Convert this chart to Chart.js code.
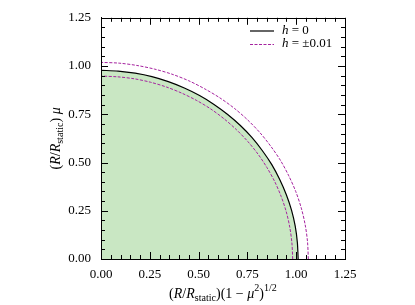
<!DOCTYPE html>
<html><head><meta charset="utf-8">
<script src="https://cdn.jsdelivr.net/npm/chart.js@4/dist/chart.umd.min.js"></script>
<style>html,body{margin:0;padding:0;background:#fff}#wrap{width:415px;height:305px}</style>
</head><body><div id="wrap"><canvas id="c" width="415" height="305"></canvas></div>
<script>
// h = 0 curve (x, y)
const h0X = [1.010,1.006,0.995,0.976,0.949,0.915,0.875,0.827,0.774,0.714,0.649,0.579,0.505,0.427,0.345,0.261,0.175,0.088,0.000];
const h0Y = [0.000,0.085,0.170,0.253,0.334,0.413,0.489,0.561,0.629,0.692,0.749,0.801,0.847,0.886,0.919,0.945,0.963,0.974,0.978];
// h = -0.01 (inner)
const hInX = [0.982,0.978,0.967,0.949,0.923,0.890,0.850,0.804,0.752,0.694,0.631,0.563,0.491,0.415,0.336,0.254,0.170,0.086,0.000];
const hInY = [0.000,0.083,0.165,0.245,0.324,0.401,0.474,0.544,0.609,0.670,0.726,0.777,0.821,0.859,0.891,0.916,0.934,0.944,0.948];
// h = +0.01 (outer)
const hOutX = [1.062,1.058,1.046,1.026,0.998,0.962,0.920,0.870,0.814,0.751,0.683,0.609,0.531,0.449,0.363,0.275,0.184,0.093,0.000];
const hOutY = [0.000,0.089,0.177,0.264,0.349,0.431,0.510,0.584,0.655,0.721,0.781,0.835,0.882,0.924,0.958,0.984,1.003,1.015,1.019];
const tickValues = [0.00,0.25,0.50,0.75,1.00,1.25];
const legendLabels = ['h = 0','h = ±0.01'];

const pts = (xs, ys) => xs.map((x, i) => ({x: x, y: ys[i]}));
const SERIF = '"Liberation Serif","DejaVu Serif",serif';
const PURPLE = '#a5239f';

function richText(ctx, segs, size) {
  let w = 0;
  const parts = segs.map(s => {
    const sz = s.sub || s.sup ? size * 0.72 : size;
    const f = (s.it ? 'italic ' : '') + sz + 'px ' + SERIF;
    ctx.font = f;
    const m = ctx.measureText(s.t).width;
    w += m;
    return {s, f, m};
  });
  return {w, draw: (x0, y0) => {
    let x = x0;
    parts.forEach(p => {
      ctx.font = p.f;
      let dy = 0;
      if (p.s.sub) dy = size * 0.28;
      if (p.s.sup) dy = -size * 0.38;
      ctx.fillText(p.s.t, x, y0 + dy);
      x += p.m;
    });
  }};
}

const decor = {
  id: 'decor',
  afterDatasetsDraw(chart) {
    const ctx = chart.ctx, xs = chart.scales.x, ys = chart.scales.y;
    const a = chart.chartArea;
    ctx.save();
    ctx.strokeStyle = '#000'; ctx.lineWidth = 1;
    for (let k = 0; k <= 25; k++) {
      const v = k * 0.05;
      const major = k % 5 === 0;
      const L = major ? 7 : 4;
      const px = Math.round(xs.getPixelForValue(v)) + 0.5;
      const py = Math.round(ys.getPixelForValue(v)) + 0.5;
      ctx.beginPath();
      ctx.moveTo(px, a.bottom); ctx.lineTo(px, a.bottom - L);
      ctx.moveTo(px, a.top); ctx.lineTo(px, a.top + L);
      ctx.moveTo(a.left, py); ctx.lineTo(a.left + L, py);
      ctx.moveTo(a.right, py); ctx.lineTo(a.right - L, py);
      ctx.stroke();
    }
    // legend
    ctx.fillStyle = '#000';
    ctx.textBaseline = 'middle';
    ctx.beginPath(); ctx.strokeStyle = '#000'; ctx.lineWidth = 1.2;
    ctx.moveTo(250, 31); ctx.lineTo(274, 31); ctx.stroke();
    ctx.beginPath(); ctx.strokeStyle = PURPLE; ctx.lineWidth = 1; ctx.setLineDash([3, 1.5]);
    ctx.moveTo(250, 44.5); ctx.lineTo(274, 44.5); ctx.stroke();
    ctx.setLineDash([]);
    ctx.textAlign = 'left';
    let r = richText(ctx, [{t:'h',it:1},{t:' = 0'}], 13); r.draw(282, 31);
    r = richText(ctx, [{t:'h',it:1},{t:' = ±0.01'}], 13); r.draw(282, 44);
    // x title
    r = richText(ctx, [{t:'('},{t:'R',it:1},{t:'/'},{t:'R',it:1},{t:'static',sub:1},{t:')(1 − '},{t:'μ',it:1},{t:'2',sup:1},{t:')'},{t:'1/2',sup:1}], 14);
    r.draw((a.left + a.right) / 2 - r.w / 2, 294);
    // y title
    ctx.translate(56, (a.top + a.bottom) / 2);
    ctx.rotate(-Math.PI / 2);
    r = richText(ctx, [{t:'('},{t:'R',it:1},{t:'/'},{t:'R',it:1},{t:'static',sub:1},{t:') '},{t:'μ',it:1}], 14);
    r.draw(-r.w / 2, 0);
    ctx.restore();
  }
};

new Chart(document.getElementById('c'), {
  type: 'scatter',
  data: { datasets: [
    { data: pts(h0X, h0Y), showLine: true, borderColor: '#000', borderWidth: 1.2, pointRadius: 0, order: 5,
      fill: 'origin', backgroundColor: 'rgb(201,231,195)', tension: 0.3 },
    { data: pts(hInX, hInY), showLine: true, borderColor: PURPLE, borderWidth: 1, borderDash: [3, 1.5], pointRadius: 0, fill: false, tension: 0.3, order: 1 },
    { data: pts(hOutX, hOutY), showLine: true, borderColor: PURPLE, borderWidth: 1, borderDash: [3, 1.5], pointRadius: 0, fill: false, tension: 0.3, order: 2 }
  ]},
  options: {
    responsive: false, animation: false, devicePixelRatio: 1,
    layout: { padding: { top: 15, right: 70, left: 0, bottom: 0 } },
    plugins: { legend: { display: false }, tooltip: { enabled: false } },
    scales: {
      x: { type: 'linear', min: 0, max: 1.25,
        afterBuildTicks: s => { s.ticks = tickValues.map(v => ({value: v})); },
        afterFit: s => { s.height = 46; },
        grid: { display: false, drawTicks: false },
        border: { display: true, color: '#000', width: 1 },
        ticks: { color: '#000', padding: 8, maxRotation: 0, font: { family: SERIF, size: 13 }, callback: v => Number(v).toFixed(2) } },
      y: { type: 'linear', min: 0, max: 1.25,
        afterBuildTicks: s => { s.ticks = tickValues.map(v => ({value: v})); },
        afterFit: s => { s.width = 101; },
        grid: { display: false, drawTicks: false },
        border: { display: true, color: '#000', width: 1 },
        ticks: { color: '#000', padding: 10, font: { family: SERIF, size: 13 }, callback: v => Number(v).toFixed(2) } }
    }
  },
  plugins: [decor, {
    id: 'frame',
    afterDraw(chart) {
      const a = chart.chartArea, ctx = chart.ctx;
      ctx.save(); ctx.strokeStyle = '#000'; ctx.lineWidth = 1;
      ctx.strokeRect(Math.round(a.left) + 0.5, Math.round(a.top) + 0.5, Math.round(a.right - a.left), Math.round(a.bottom - a.top));
      ctx.restore();
    }
  }]
});
</script></body></html>
